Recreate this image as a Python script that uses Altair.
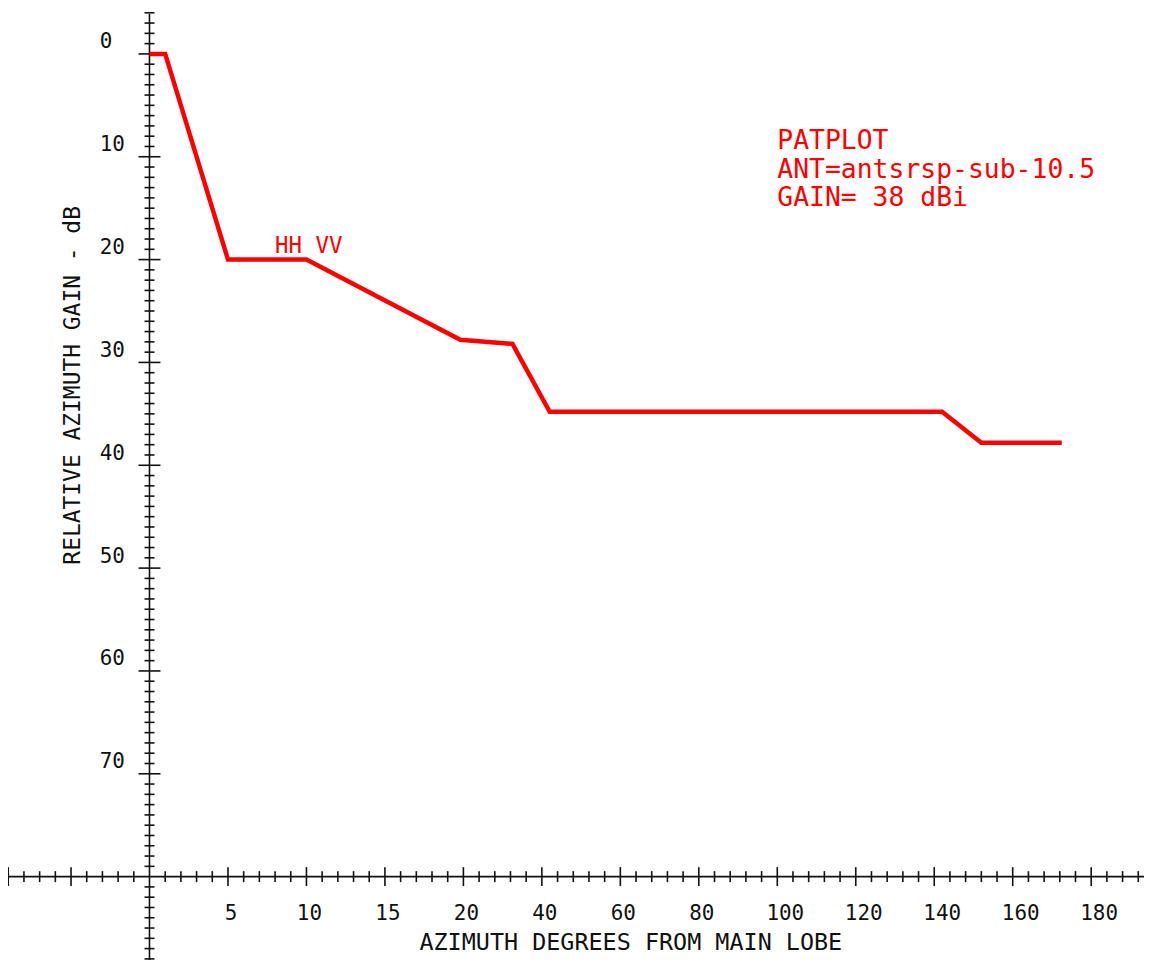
import altair as alt
import pandas as pd

# ---- data ----
azimuth = [0, 1, 5, 10, 19.8, 32.5, 42, 142, 152, 172.5]
rel_gain = [0, 0, 20, 20, 27.8, 28.2, 34.8, 34.8, 37.8, 37.8]

x_label_values = [5, 10, 15, 20, 40, 60, 80, 100, 120, 140, 160, 180]
y_label_values = [0, 10, 20, 30, 40, 50, 60, 70]

x_major_ticks = [-9, -5] + x_label_values
x_minor_ticks = [v for v in list(range(-8, 0)) + list(range(1, 20)) + list(range(24, 193, 4))
                 if v not in x_major_ticks]
y_major_ticks = [0, 10, 20, 30, 40, 50, 60, 70]
y_minor_ticks = [v for v in range(-4, 89) if v % 10 != 0]

info_lines = ["PATPLOT", "ANT=antsrsp-sub-10.5", "GAIN= 38 dBi"]
pol_label = "HH VV"
x_title = "AZIMUTH DEGREES FROM MAIN LOBE"
y_title = "RELATIVE AZIMUTH GAIN - dB"

# ---- styling / layout ----
FONT = "DejaVu Sans Mono"
RED = "#ff0000"
INK = "#111111"
W, H = 1140, 952

xs = alt.Scale(domain=[0, 20, 180], range=[142, 457, 1087], nice=False, zero=False)
ys = alt.Scale(domain=[0, 80], range=[44.4, 870], nice=False, zero=False)

one = pd.DataFrame({"k": [0]})
line_df = pd.DataFrame({"az": azimuth, "gain": rel_gain})
xmaj = pd.DataFrame({"v": x_major_ticks})
xmin = pd.DataFrame({"v": x_minor_ticks})
ymaj = pd.DataFrame({"v": y_major_ticks})
ymin = pd.DataFrame({"v": y_minor_ticks})
xlab_short = pd.DataFrame({"v": [v for v in x_label_values if v < 100]})
xlab_long = pd.DataFrame({"v": [v for v in x_label_values if v >= 100]})
xlab_short["t"] = xlab_short["v"].astype(str)
xlab_long["t"] = xlab_long["v"].astype(str)
ylab = pd.DataFrame({"v": y_label_values, "t": [str(v) for v in y_label_values]})


def XF(f):
    return alt.X(f, type="quantitative", scale=xs, axis=None)


def YF(f):
    return alt.Y(f, type="quantitative", scale=ys, axis=None)


def XD(d):
    return alt.X(datum=d, type="quantitative", scale=xs, axis=None)


def YD(d):
    return alt.Y(datum=d, type="quantitative", scale=ys, axis=None)


x_axis = alt.Chart(one).mark_rule(color=INK, strokeWidth=1.6).encode(
    x=XD(-9.05), x2=alt.X2(datum=193.5), y=YD(80)
)
y_axis = alt.Chart(one).mark_rule(color=INK, strokeWidth=1.6).encode(
    x=XD(0), y=YD(-3.9), y2=alt.Y2(datum=90)
)
x_ticks_minor = alt.Chart(xmin).mark_tick(orient="vertical", size=11, thickness=1.6, color=INK, opacity=1).encode(
    x=XF("v"), y=YD(80)
)
x_ticks_major = alt.Chart(xmaj).mark_tick(orient="vertical", size=19, thickness=1.6, color=INK, opacity=1).encode(
    x=XF("v"), y=YD(80)
)
y_ticks_minor = alt.Chart(ymin).mark_tick(orient="horizontal", size=10, thickness=1.6, color=INK, opacity=1).encode(
    y=YF("v"), x=XD(0)
)
y_ticks_major = alt.Chart(ymaj).mark_tick(orient="horizontal", size=22, thickness=1.6, color=INK, opacity=1).encode(
    y=YF("v"), x=XD(0)
)
x_labels_short = alt.Chart(xlab_short).mark_text(font=FONT, fontSize=21, color=INK, align="center",
                                                 baseline="middle", dy=38, dx=3).encode(
    x=XF("v"), y=YD(80), text="t:N"
)
x_labels_long = alt.Chart(xlab_long).mark_text(font=FONT, fontSize=21, color=INK, align="center",
                                               baseline="middle", dy=38, dx=8).encode(
    x=XF("v"), y=YD(80), text="t:N"
)
y_labels = alt.Chart(ylab).mark_text(font=FONT, fontSize=21, color=INK, align="left",
                                     baseline="middle", dy=-11.5).encode(
    x=alt.value(92), y=YF("v"), text="t:N"
)
pattern = alt.Chart(line_df).mark_line(color=RED, strokeWidth=4.5, strokeJoin="miter").encode(
    x=XF("az"), y=YF("gain"), order=alt.Order("az:Q")
)
pol = alt.Chart(one).mark_text(font=FONT, fontSize=22.5, color=RED, align="left",
                               baseline="middle", dy=-14).encode(
    x=XD(8), y=YD(20), text=alt.value(pol_label)
)
info = alt.Chart(one).mark_text(font=FONT, fontSize=26.5, color=RED, align="left",
                                baseline="alphabetic", lineHeight=28.5, text=info_lines).encode(
    x=alt.value(772), y=alt.value(140)
)
xt = alt.Chart(one).mark_text(font=FONT, fontSize=23.5, color=INK, align="center",
                              baseline="middle").encode(
    x=alt.value(625), y=alt.value(937), text=alt.value(x_title)
)
yt = alt.Chart(one).mark_text(font=FONT, fontSize=23, color=INK, align="center",
                              baseline="middle", angle=270).encode(
    x=alt.value(65.5), y=alt.value(377), text=alt.value(y_title)
)

chart = alt.layer(
    x_axis, y_axis, x_ticks_minor, x_ticks_major, y_ticks_minor, y_ticks_major,
    x_labels_short, x_labels_long, y_labels, pattern, pol, info, xt, yt
).properties(
    width=W, height=H, padding=0, autosize=alt.AutoSizeParams(type="none"),
    background="white"
).configure_view(stroke=None)

chart.save("out.html", embed_options={"renderer": "svg", "actions": False})
